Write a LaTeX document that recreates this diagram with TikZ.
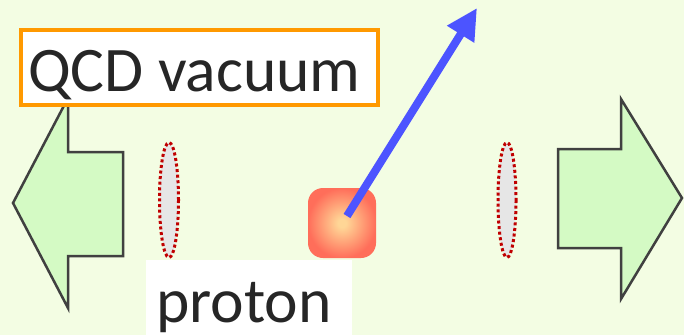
\documentclass[tikz,border=0pt]{standalone}
\usepackage{fontspec}
\setmainfont{Carlito}
\usetikzlibrary{arrows.meta}
\definecolor{bg}{HTML}{F3FDE3}
\definecolor{arrowfill}{HTML}{D4FAC4}
\definecolor{arrowline}{HTML}{404040}
\definecolor{ringred}{HTML}{C00000}
\definecolor{ringfill}{HTML}{E6E6E6}
\definecolor{qcdorange}{HTML}{FF9900}
\definecolor{txt}{HTML}{262626}
\definecolor{pblue}{HTML}{4C54FF}
\definecolor{pinner}{HTML}{FFD696}
\definecolor{pouter}{HTML}{FF6E5A}
\pgfdeclareradialshading{protonshade}{\pgfpoint{0bp}{0bp}}{color(0bp)=(pinner); color(3bp)=(pinner); color(25bp)=(pouter); color(50bp)=(pouter)}
\tikzset{
  fatarrow/.style={fill=arrowfill, draw=arrowline, line width=2.5pt, line join=miter},
  ring/.style={fill=ringfill, draw=ringred, line width=3pt, dash pattern=on 3pt off 2.6pt},
  lbl/.style={font=\fontsize{63.5}{70}\selectfont, text=txt, inner sep=0pt, anchor=base west},
}
\begin{document}
\begin{tikzpicture}[x=1pt,y=-1pt]
\fill[bg] (0,0) rectangle (684,335);
\useasboundingbox (0,0) rectangle (684,335);
% fat arrows
\draw[fatarrow] (13,203) -- (68,98) -- (68,152) -- (123,152) -- (123,256) -- (68,256) -- (68,308) -- cycle;
\draw[fatarrow] (682,198) -- (621,99) -- (621,149) -- (558,149) -- (558,248) -- (621,248) -- (621,299) -- cycle;
% rings
\draw[ring] (169,200) ellipse [x radius=9.5, y radius=57.5];
\draw[ring] (507,200) ellipse [x radius=9, y radius=57.5];
% QCD box
\node[draw=qcdorange, line width=4pt, fill=white, minimum width=357pt, minimum height=75pt, inner sep=0pt] (qcd) at (199.5,67.5) {};
\node[lbl] (qcdtext) at (28,91) {QCD vacuum};
% proton label
\node[fill=white, minimum width=206pt, minimum height=76pt, inner sep=0pt] (pbox) at (249,298) {};
\node[lbl] (ptext) at (156,322) {proton};
% proton square
\node[minimum width=68pt, minimum height=70pt, inner sep=0pt, rounded corners=15pt, shading=protonshade] (psq) at (342,223) {};
\coordinate (as) at (347,216);
\coordinate (ae) at (477,8);
\draw[pblue, line width=8pt, -{Triangle[length=31pt,width=30pt]}] (as) -- (ae);
\end{tikzpicture}
\end{document}
